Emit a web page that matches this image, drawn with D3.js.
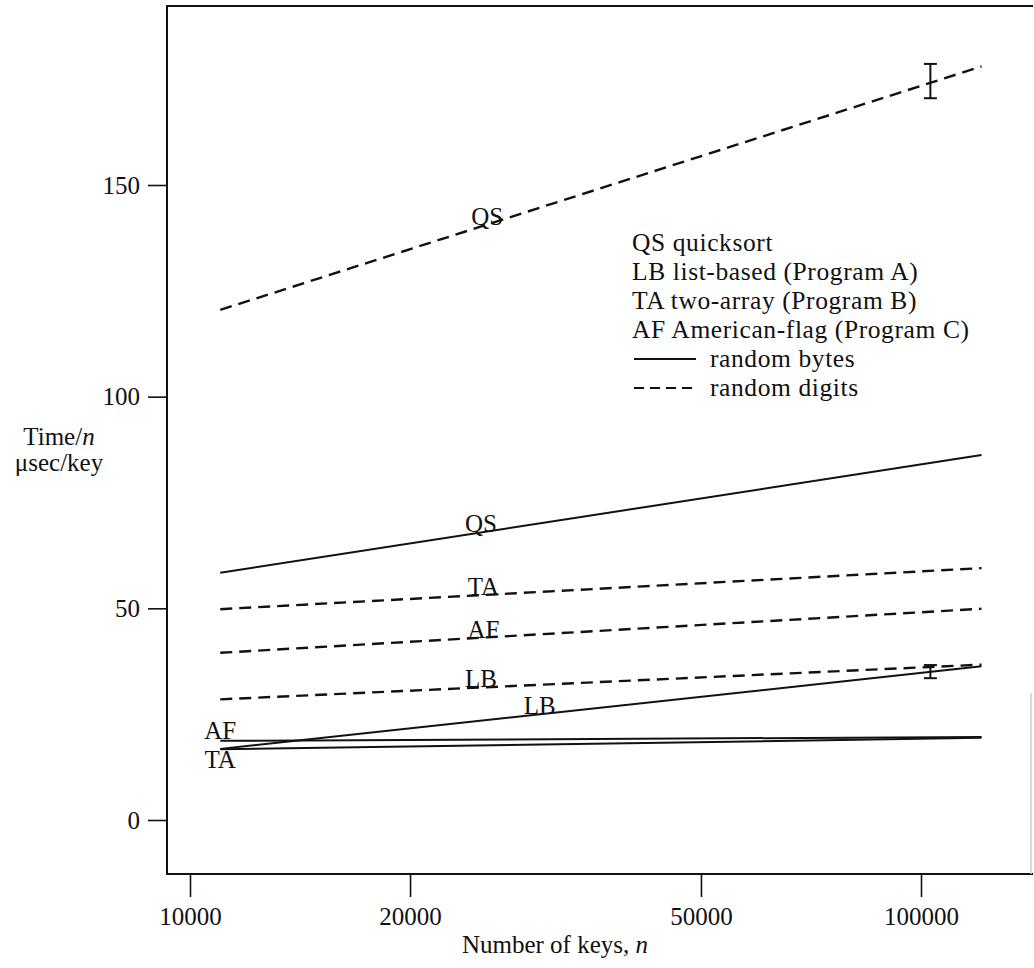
<!DOCTYPE html>
<html>
<head>
<meta charset="utf-8">
<script src="https://cdn.jsdelivr.net/npm/d3@7"></script>
<style>
  body { margin: 0; background: #fff; }
  svg text { font-family: "Liberation Serif", "Times New Roman", serif; fill: #111; }
</style>
</head>
<body>
<svg width="1034" height="968"></svg>
<script>
// data (time per key, usec)
var nKeys = [11000, 121000];
var qsDigits = [120.5, 178.0];
var taDigits = [49.8, 59.5];
var afDigits = [39.5, 49.9];
var lbDigits = [28.5, 36.7];
var qsBytes = [58.4, 86.2];
var lbBytes = [16.8, 36.3];
var afBytes = [18.7, 19.6];
var taBytes = [16.7, 19.4];

var xTicks = [10000, 20000, 50000, 100000];
var yTicks = [0, 50, 100, 150];

// error bars at n ~ 100000
var errN = [103000, 103000];
var errLow = [170.5, 33.5];
var errHigh = [178.6, 36.6];

var legendRows = ["QS quicksort", "LB list-based (Program A)", "TA two-array (Program B)", "AF American-flag (Program C)"];

var frameL = 167, frameR = 1033, frameT = 6, frameB = 874;

var svg = d3.select("svg");

var xScale = d3.scaleLog().domain([10000, 100000]).range([190, 921]);
var yScale = d3.scaleLinear().domain([0, 150]).range([820, 185]);

var series = [
  {key: "qsD", values: qsDigits, dash: true},
  {key: "taD", values: taDigits, dash: true},
  {key: "afD", values: afDigits, dash: true},
  {key: "lbD", values: lbDigits, dash: true},
  {key: "qsB", values: qsBytes, dash: false},
  {key: "lbB", values: lbBytes, dash: false},
  {key: "afB", values: afBytes, dash: false},
  {key: "taB", values: taBytes, dash: false}
];

// frame (right side barely shows in the scan)
svg.append("path")
  .attr("d", "M" + frameR + "," + frameT + "H" + frameL + "V" + frameB + "H" + frameR)
  .attr("fill", "none")
  .attr("stroke", "#111")
  .attr("stroke-width", 2);
svg.append("line")
  .attr("x1", frameR - 2).attr("x2", frameR - 2)
  .attr("y1", 693).attr("y2", frameB)
  .attr("stroke", "#ccc")
  .attr("stroke-width", 1.5);

// axes
svg.append("g")
  .attr("transform", "translate(" + frameL + ",0)")
  .call(d3.axisLeft(yScale).tickValues(yTicks).tickSize(19).tickPadding(8).tickFormat(d3.format("d")));
svg.append("g")
  .attr("transform", "translate(0," + frameB + ")")
  .call(d3.axisBottom(xScale).tickValues(xTicks).tickSize(23).tickPadding(10).tickFormat(d3.format("d")));

svg.selectAll(".domain").remove();
svg.selectAll(".tick line").attr("stroke", "#111").attr("stroke-width", 1.6);
svg.selectAll(".tick text")
  .attr("font-family", "Liberation Serif")
  .attr("font-size", 25)
  .attr("fill", "#111");

// axis titles
var yt = svg.append("text")
  .attr("x", 59).attr("y", 445)
  .attr("text-anchor", "middle")
  .attr("font-size", 25);
yt.append("tspan").text("Time/");
yt.append("tspan").attr("font-style", "italic").text("n");
svg.append("text")
  .attr("x", 59).attr("y", 471)
  .attr("text-anchor", "middle")
  .attr("font-size", 25)
  .text("\u03bcsec/key");

var xt = svg.append("text")
  .attr("x", 555).attr("y", 953)
  .attr("text-anchor", "middle")
  .attr("font-size", 25);
xt.append("tspan").text("Number of keys, ");
xt.append("tspan").attr("font-style", "italic").text("n");

// lines
var line = d3.line()
  .x(function(d, i) { return xScale(nKeys[i]); })
  .y(function(d) { return yScale(d); });

svg.selectAll(".series")
  .data(series)
  .enter().append("path")
  .attr("class", "series")
  .attr("d", function(d) { return line(d.values); })
  .attr("fill", "none")
  .attr("stroke", "#111")
  .attr("stroke-width", function(d) { return d.dash ? 2.4 : 2; })
  .attr("stroke-dasharray", function(d) { return d.dash ? "12,7" : null; });

// value of a series at n (straight in log n)
function valueAt(vals, n) {
  var t = (Math.log(n) - Math.log(nKeys[0])) / (Math.log(nKeys[1]) - Math.log(nKeys[0]));
  return vals[0] + t * (vals[1] - vals[0]);
}

var lineLabels = [
  {text: "QS", vals: qsDigits, n: 25500, dy: 0},
  {text: "QS", vals: qsBytes, n: 25000, dy: 0},
  {text: "TA", vals: taDigits, n: 25200, dy: 0},
  {text: "AF", vals: afDigits, n: 25200, dy: 0},
  {text: "LB", vals: lbDigits, n: 25000, dy: 0},
  {text: "LB", vals: lbBytes, n: 30100, dy: 0},
  {text: "AF", vals: afBytes, n: 11000, dy: -2},
  {text: "TA", vals: taBytes, n: 11000, dy: 19}
];

svg.selectAll(".lbl")
  .data(lineLabels)
  .enter().append("text")
  .attr("class", "lbl")
  .attr("x", function(d) { return xScale(d.n); })
  .attr("y", function(d) { return yScale(valueAt(d.vals, d.n)) + d.dy; })
  .attr("text-anchor", "middle")
  .attr("font-size", 25)
  .text(function(d) { return d.text; });

// error bars
var eb = svg.selectAll(".err")
  .data(errN)
  .enter().append("g")
  .attr("class", "err")
  .attr("stroke", "#111")
  .attr("stroke-width", 2);
eb.append("line")
  .attr("x1", function(d) { return xScale(d); })
  .attr("x2", function(d) { return xScale(d); })
  .attr("y1", function(d, i) { return yScale(errLow[i]); })
  .attr("y2", function(d, i) { return yScale(errHigh[i]); });
eb.append("line")
  .attr("x1", function(d) { return xScale(d) - 6.5; })
  .attr("x2", function(d) { return xScale(d) + 6.5; })
  .attr("y1", function(d, i) { return yScale(errLow[i]); })
  .attr("y2", function(d, i) { return yScale(errLow[i]); });
eb.append("line")
  .attr("x1", function(d) { return xScale(d) - 6.5; })
  .attr("x2", function(d) { return xScale(d) + 6.5; })
  .attr("y1", function(d, i) { return yScale(errHigh[i]); })
  .attr("y2", function(d, i) { return yScale(errHigh[i]); });

// legend
var lgX = 632, lgY = 251, lgStep = 29, lgFont = 25.5;
svg.selectAll(".lg")
  .data(legendRows)
  .enter().append("text")
  .attr("class", "lg")
  .attr("x", lgX)
  .attr("y", function(d, i) { return lgY + i * lgStep; })
  .attr("font-size", lgFont)
  .attr("letter-spacing", 0.6)
  .text(function(d) { return d; });

var keys = [{label: "random bytes", dash: null}, {label: "random digits", dash: "10,6"}];
var lk = svg.selectAll(".lk")
  .data(keys)
  .enter().append("g")
  .attr("class", "lk")
  .attr("transform", function(d, i) { return "translate(" + lgX + "," + (lgY + (4 + i) * lgStep) + ")"; });
lk.append("line")
  .attr("x1", 2).attr("x2", 64)
  .attr("y1", -8).attr("y2", -8)
  .attr("stroke", "#111")
  .attr("stroke-width", 2)
  .attr("stroke-dasharray", function(d) { return d.dash; });
lk.append("text")
  .attr("x", 78)
  .attr("font-size", lgFont)
  .attr("letter-spacing", 0.6)
  .text(function(d) { return d.label; });
</script>
</body>
</html>
